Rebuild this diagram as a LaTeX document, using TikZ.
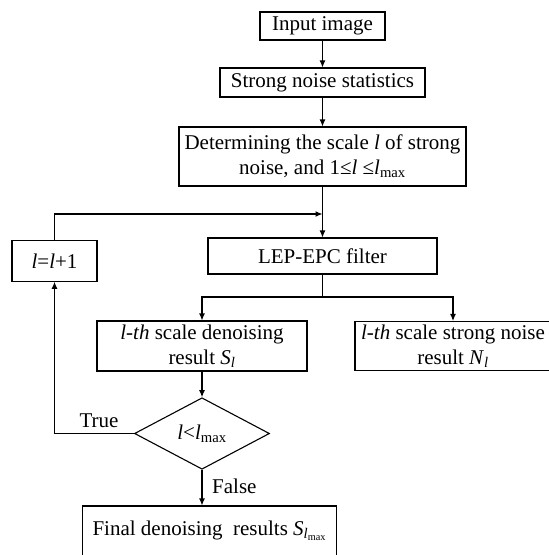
\documentclass[tikz,border=0pt]{standalone}
\usepackage{fontspec}
\setmainfont{Liberation Serif}
\usetikzlibrary{positioning}
\usetikzlibrary{arrows, arrows.meta, shapes.geometric}

\begin{document}
\begin{tikzpicture}[x=1pt, y=-1pt,
    box/.style={draw, line width=1.1pt, inner sep=0pt, align=center, font=\fontsize{21}{25}\selectfont},
    cond/.style={draw, diamond, line width=1.1pt, inner sep=0pt, font=\fontsize{21}{25}\selectfont},
    lbl/.style={font=\fontsize{21}{25}\selectfont, inner sep=0pt},
    arr/.style={-{Latex[length=7pt, width=6pt]}, line width=1.1pt}]
    \useasboundingbox (0,0) rectangle (549,555);

    \def\midx{322.5}
    \def\lefx{202}

    % main column
    \node[box, minimum width=125, minimum height=28] (input) at (\midx,26) {Input image};
    \node[box, minimum width=205, minimum height=29] (stat) at (\midx,82.5) {Strong noise statistics};
    \node[box, minimum width=287, minimum height=59] (scale) at (\midx,156.5)
        {Determining the scale \textit{l} of strong\\noise, and 1≤\textit{l} ≤\textit{l}\textsubscript{max}};
    \node[box, minimum width=229, minimum height=36] (filt) at (\midx,256) {LEP-EPC filter};
    \node[box, minimum width=85, minimum height=40.5] (inc) at (54.5,261) {\textit{l}=\textit{l}+1};

    % results
    \node[box, minimum width=210, minimum height=50] (den) at (\lefx,346)
        {\textit{l-th} scale denoising\\result \textit{S}\textsubscript{\textit{l}}};
    \node[box, minimum width=196, minimum height=49] (noi) at (453,346)
        {\textit{l-th} scale strong noise\\result \textit{N}\textsubscript{\textit{l}}};
    \node[cond, minimum width=135, minimum height=71.5] (test) at (\lefx,433.5)
        {\textit{l}<\textit{l}\textsubscript{max}};
    \node[box, minimum width=254, minimum height=50] (final) at (209.5,531)
        {Final denoising~ results \textit{S}\textsubscript{\textit{l}\textsubscript{max}}};

    \coordinate (jn) at (\midx,214);
    \coordinate (sp) at (\midx,297);

    \draw[arr] (input) -- (stat);
    \draw[arr] (stat) -- (scale);
    \draw[arr] (scale) -- (filt);
    \draw[arr] (inc.north) |- (jn);
    \draw[line width=1.1pt] (filt.south) -- (sp);
    \draw[arr] (sp) -| (den.north);
    \draw[arr] (sp) -| (noi.north);
    \draw[arr] (den) -- (test);
    \draw[arr] (test.west) -| (inc.south);
    \draw[arr] (test.south) -- (test.south |- final.north);

    \node[lbl, anchor=base] (tru) at (99,427) {True};
    \node[lbl, anchor=base west] (fal) at (212,493) {False};
\end{tikzpicture}
\end{document}
